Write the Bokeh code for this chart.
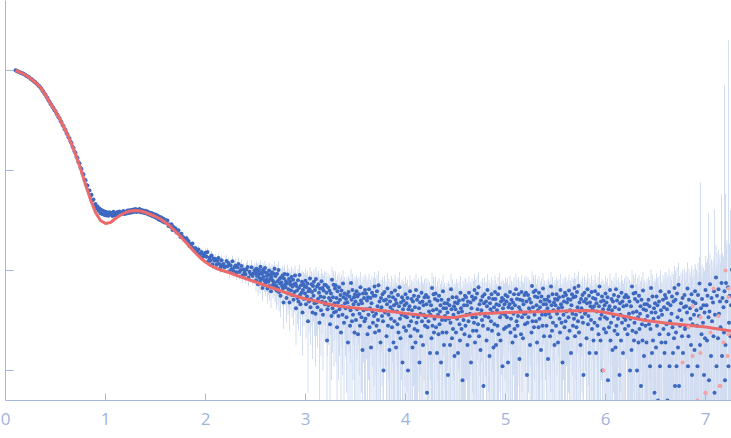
import numpy as np
from bokeh.plotting import figure
from bokeh.models import FixedTicker, Range1d, CustomJSTickFormatter
from bokeh.embed import file_html
from bokeh.resources import INLINE

# ---------------- data ----------------
# low-q part: rows of q (step 0.01), log10 intensity
low_rows = [0.1, 0.2, 0.3, 0.4, 0.5, 0.6, 0.7, 0.8, 0.9, 1.0, 1.1, 1.2,
            1.3, 1.4, 1.5, 1.6, 1.7, 1.8, 1.9, 2.0, 2.1, 2.2, 2.3, 2.4]
low_offsets = [0.00, 0.01, 0.02, 0.03, 0.04, 0.05, 0.06, 0.07, 0.08, 0.09]
logI_low = [
    [0.002, -0.003, -0.010, -0.011, -0.018, -0.019, -0.027, -0.028, -0.036, -0.039],
    [-0.044, -0.054, -0.057, -0.068, -0.071, -0.082, -0.086, -0.098, -0.102, -0.114],
    [-0.118, -0.133, -0.138, -0.152, -0.157, -0.173, -0.183, -0.203, -0.212, -0.233],
    [-0.243, -0.266, -0.276, -0.299, -0.310, -0.334, -0.343, -0.366, -0.375, -0.397],
    [-0.407, -0.432, -0.443, -0.468, -0.478, -0.504, -0.516, -0.545, -0.556, -0.584],
    [-0.596, -0.625, -0.639, -0.668, -0.679, -0.709, -0.724, -0.760, -0.774, -0.810],
    [-0.824, -0.864, -0.876, -0.918, -0.929, -0.972, -0.985, -1.031, -1.041, -1.090],
    [-1.098, -1.147, -1.151, -1.201, -1.199, -1.255, -1.243, -1.301, -1.290, -1.347],
    [-1.336, -1.381, -1.359, -1.402, -1.380, -1.428, -1.395, -1.437, -1.405, -1.444],
    [-1.412, -1.449, -1.421, -1.452, -1.418, -1.441, -1.426, -1.455, -1.413, -1.447],
    [-1.424, -1.444, -1.416, -1.438, -1.409, -1.441, -1.418, -1.432, -1.405, -1.436],
    [-1.412, -1.431, -1.401, -1.425, -1.398, -1.422, -1.394, -1.417, -1.389, -1.413],
    [-1.385, -1.414, -1.392, -1.410, -1.386, -1.418, -1.395, -1.421, -1.399, -1.426],
    [-1.402, -1.431, -1.409, -1.441, -1.420, -1.448, -1.425, -1.458, -1.434, -1.466],
    [-1.441, -1.476, -1.450, -1.489, -1.462, -1.498, -1.471, -1.509, -1.482, -1.521],
    [-1.495, -1.522, -1.500, -1.555, -1.539, -1.562, -1.538, -1.594, -1.565, -1.583],
    [-1.579, -1.619, -1.605, -1.597, -1.638, -1.664, -1.633, -1.666, -1.669, -1.695],
    [-1.699, -1.678, -1.713, -1.706, -1.755, -1.734, -1.761, -1.731, -1.788, -1.778],
    [-1.777, -1.818, -1.799, -1.790, -1.836, -1.832, -1.815, -1.864, -1.838, -1.855],
    [-1.823, -1.863, -1.815, -1.906, -1.869, -1.902, -1.849, -1.940, -1.879, -1.902],
    [-1.885, -1.943, -1.904, -1.876, -1.935, -1.968, -1.898, -1.944, -1.935, -1.968],
    [-1.963, -1.904, -1.957, -1.926, -2.007, -1.948, -1.985, -1.908, -2.005, -1.968],
    [-1.949, -2.018, -1.967, -1.936, -2.015, -1.994, -1.955, -2.048, -1.991, -2.020],
    [-2.040, -1.990, -1.965, -2.073, -2.013, -2.035, -1.968, -2.055, -2.031, -1.997],
]
rel_err_low = [0.01, 0.01, 0.01, 0.01, 0.01, 0.01, 0.01, 0.01, 0.02, 0.02, 0.02, 0.02,
               0.02, 0.02, 0.03, 0.04, 0.05, 0.06, 0.08, 0.10, 0.12, 0.14, 0.16, 0.18]

# high-q part: rows of q (step 0.005), intensity in units of 1e-4
high_rows = [2.5, 2.6, 2.7, 2.8, 2.9, 3.0, 3.1, 3.2, 3.3, 3.4, 3.5, 3.6, 3.7, 3.8, 3.9,
             4.0, 4.1, 4.2, 4.3, 4.4, 4.5, 4.6, 4.7, 4.8, 4.9, 5.0, 5.1, 5.2, 5.3, 5.4,
             5.5, 5.6, 5.7, 5.8, 5.9, 6.0, 6.1, 6.2, 6.3, 6.4, 6.5, 6.6, 6.7, 6.8, 6.9,
             7.0, 7.1, 7.2]
high_offsets = [0.000, 0.005, 0.010, 0.015, 0.020, 0.025, 0.030, 0.035, 0.040, 0.045,
                0.050, 0.055, 0.060, 0.065, 0.070, 0.075, 0.080, 0.085, 0.090, 0.095]
I_high = [
    [94, 80, 104, 88, 98, 73, 91, 101, 84, 77, 109, 95, 82, 92, 67, 102, 86, 97, 79, 106],
    [75, 95, 81, 88, 66, 92, 77, 100, 70, 82, 90, 62, 86, 96, 80, 72, 93, 76, 104, 68],
    [88, 71, 63, 93, 78, 67, 101, 61, 82, 74, 56, 85, 76, 70, 89, 66, 48, 83, 92, 72],
    [68, 78, 53, 74, 91, 59, 65, 82, 48, 77, 72, 63, 86, 57, 69, 81, 51, 73, 61, 89],
    [74, 42, 70, 63, 53, 80, 49, 67, 90, 57, 46, 71, 60, 77, 38, 64, 73, 52, 69, 59],
    [79, 46, 68, 55, 74, 31, 62, 49, 65, 83, 43, 52, 73, 61, 38, 70, 56, 77, 47, 64],
    [37, 82, 48, 69, 43, 52, 73, 60, 30, 66, 55, 40, 78, 49, 67, 36, 63, 54, 72, 46],
    [48, 71, 60, 20, 41, 68, 45, 53, 63, 29, 50, 59, 35, 81, 42, 54, 72, 38, 47, 66],
    [71, 39, 53, 27, 62, 48, 35, 68, 41, 51, 57, 24, 63, 44, 36, 74, 54, 30, 59, 47],
    [42, 52, 34, 57, 48, 19, 61, 43, 55, 28, 40, 75, 51, 31, 64, 36, 46, 54, 24, 58],
    [49, 32, 62, 41, 55, 23, 46, 58, 37, 28, 68, 50, 34, 47, 16, 59, 40, 53, 31, 64],
    [33, 59, 41, 50, 23, 54, 36, 65, 27, 42, 53, 17, 47, 60, 39, 30, 56, 35, 69, 24],
    [56, 37, 28, 62, 44, 32, 71, 25, 49, 40, 19, 53, 43, 35, 58, 31, 10, 50, 61, 38],
    [39, 51, 22, 46, 66, 28, 36, 55, 16, 49, 43, 33, 60, 27, 40, 54, 19, 45, 31, 63],
    [51, 17, 47, 39, 29, 57, 24, 44, 68, 33, 21, 48, 36, 54, 12, 41, 50, 27, 45, 35],
    [58, 25, 47, 34, 53, 10, 41, 28, 44, 62, 22, 31, 52, 40, 17, 49, 35, 56, 26, 43],
    [19, 64, 30, 51, 25, 34, 55, 42, 12, 48, 37, 22, 60, 31, 49, 18, 45, 36, 54, 28],
    [34, 57, 46, 6, 27, 54, 31, 39, 49, 15, 36, 45, 21, 67, 28, 40, 58, 24, 33, 52],
    [59, 27, 41, 15, 50, 36, 23, 56, 29, 39, 45, 12, 51, 32, 24, 62, 42, 18, 47, 35],
    [32, 42, 24, 47, 38, 9, 51, 33, 45, 18, 30, 65, 41, 21, 54, 26, 36, 44, 14, 48],
    [41, 24, 54, 33, 47, 15, 38, 50, 29, 20, 60, 42, 26, 39, 8, 51, 32, 45, 23, 56],
    [28, 54, 36, 45, 18, 49, 31, 60, 22, 37, 48, 12, 42, 55, 34, 25, 51, 30, 64, 19],
    [53, 34, 25, 59, 41, 29, 68, 22, 46, 37, 16, 50, 40, 32, 55, 28, 7, 47, 58, 35],
    [37, 49, 20, 44, 64, 26, 34, 53, 14, 47, 41, 31, 58, 25, 38, 52, 17, 43, 29, 61],
    [52, 18, 46, 40, 28, 58, 23, 45, 67, 34, 20, 49, 37, 53, 11, 42, 51, 26, 46, 36],
    [57, 27, 49, 34, 55, 12, 43, 28, 46, 61, 24, 33, 51, 42, 19, 48, 37, 58, 26, 45],
    [22, 65, 31, 52, 28, 35, 58, 43, 13, 51, 40, 23, 61, 34, 50, 21, 46, 37, 57, 29],
    [37, 60, 49, 9, 30, 57, 34, 42, 52, 18, 39, 48, 24, 70, 31, 43, 61, 27, 36, 55],
    [63, 31, 45, 19, 54, 40, 27, 60, 33, 43, 49, 16, 55, 36, 28, 66, 46, 22, 51, 39],
    [36, 46, 28, 51, 42, 13, 55, 37, 49, 22, 34, 69, 45, 25, 58, 30, 40, 48, 18, 52],
    [45, 28, 58, 37, 51, 19, 42, 54, 33, 24, 64, 46, 30, 43, 12, 55, 36, 49, 27, 60],
    [31, 57, 39, 48, 21, 52, 34, 63, 25, 40, 51, 15, 45, 58, 37, 28, 54, 33, 67, 22],
    [55, 36, 27, 61, 43, 31, 70, 24, 48, 39, 18, 52, 42, 34, 57, 30, 9, 49, 60, 37],
    [38, 52, 21, 47, 65, 29, 35, 56, 15, 48, 44, 32, 61, 26, 41, 53, 20, 44, 30, 62],
    [52, 15, 47, 39, 28, 58, 23, 44, 69, 33, 20, 49, 36, 55, 10, 41, 50, 26, 45, 34],
    [59, 24, 48, 33, 54, 8, 41, 27, 44, 64, 20, 30, 52, 40, 16, 49, 35, 57, 25, 43],
    [17, 65, 28, 50, 23, 33, 55, 41, 9, 47, 36, 20, 60, 30, 49, 15, 44, 34, 54, 26],
    [32, 57, 45, -1, 23, 54, 28, 37, 49, 10, 33, 44, 16, 69, 25, 38, 59, 20, 30, 52],
    [60, 24, 39, 10, 49, 34, 19, 56, 26, 37, 44, 7, 51, 29, 20, 63, 41, 14, 46, 32],
    [28, 40, 19, 46, 35, 1, 51, 29, 44, 11, 26, 67, 38, 15, 55, 20, 33, 42, 6, 47],
    [38, 17, 55, 28, 45, 5, 34, 49, 23, 11, 62, 40, 19, 36, -4, 51, 26, 43, 15, 57],
    [19, 53, 29, 41, 5, 47, 23, 61, 11, 31, 45, -3, 37, 55, 27, 15, 49, 21, 67, 7],
    [51, 24, 11, 59, 34, 17, 72, 7, 40, 28, -1, 47, 32, 22, 53, 15, -14, 43, 57, 26],
    [27, 44, 3, 38, 66, 11, 22, 51, -6, 42, 33, 18, 58, 9, 29, 49, -2, 36, 16, 62],
    [47, -8, 40, 28, 11, 57, 4, 35, 74, 18, -1, 42, 23, 52, -15, 30, 45, 9, 38, 21],
    [64, 3, 45, 20, 56, -25, 34, 8, 39, 73, -3, 14, 53, 31, -11, 48, 22, 62, 6, 36],
    [-11, 85, 11, 56, 1, 21, 65, 37, -27, 49, 27, -5, 75, 14, 53, -15, 43, 24, 62, 8],
    [18, 75, 49, -54, -1, 68, 11, 30, 56, -31, 22, 45, -16, 102, 3, 34, 79, -8, 15, 64],
]
err_high = [18, 20, 22, 23, 24, 25, 26, 27, 27, 28, 28, 28, 28, 28, 28,
            28, 28, 28, 28, 28, 28, 28, 28, 28, 28, 28, 28, 28, 28, 28,
            28, 28, 28, 28, 28, 29, 30, 32, 34, 36, 39, 43, 48, 54, 62,
            75, 95, 130]

# very long error bars near the end (top of bar, units of 1e-4)
spike_q = [6.95, 7.03, 7.09, 7.16, 7.19, 7.20, 7.23, 7.25]
spike_top = [760, 372, 410, 575, 7080, 590, 20000, 400]

# points drawn in pink (units of 1e-4)
pink_q = [5.98, 6.77, 6.83, 6.87, 6.87, 6.92, 6.95, 6.95, 7.00, 7.00, 7.05, 7.08,
          7.13, 7.14, 7.15, 7.18, 7.20, 7.22, 7.23, 7.23, 7.23]
pink_I = [10, 12, 27, 44, 14, 5, 15, 34, 6, 6, 24, 66, 35, 7, 7, 19, 100, 14, 66, 54, 23]

# fitted curve (log10 intensity)
fit_q = [0.10, 0.15, 0.20, 0.25, 0.30, 0.35, 0.40, 0.45, 0.50, 0.55, 0.60, 0.65,
         0.70, 0.75, 0.80, 0.85, 0.90, 0.95, 1.00, 1.05, 1.10, 1.15, 1.20, 1.25,
         1.30, 1.35, 1.40, 1.45, 1.50, 1.55, 1.60, 1.65, 1.70, 1.75, 1.80, 1.85,
         1.90, 1.95, 2.00, 2.05, 2.10, 2.15, 2.20, 2.25, 2.30, 2.40, 2.50, 2.60,
         2.70, 2.80, 2.90, 3.00, 3.10, 3.20, 3.30, 3.40, 3.50, 3.60, 3.70, 3.80,
         3.90, 4.00, 4.10, 4.20, 4.30, 4.40, 4.50, 4.60, 4.70, 4.80, 4.90, 5.00,
         5.20, 5.40, 5.60, 5.80, 5.90, 6.00, 6.10, 6.20, 6.30, 6.40, 6.60, 6.80,
         7.00, 7.26]
fit_logI = [0.000, -0.020, -0.045, -0.080, -0.120, -0.170, -0.245, -0.330, -0.410,
            -0.500, -0.600, -0.710, -0.840, -0.980, -1.140, -1.290, -1.420, -1.500,
            -1.530, -1.520, -1.480, -1.445, -1.420, -1.405, -1.400, -1.405, -1.420,
            -1.440, -1.460, -1.485, -1.520, -1.560, -1.610, -1.660, -1.715, -1.770,
            -1.825, -1.875, -1.915, -1.950, -1.975, -1.995, -2.010, -2.025, -2.045,
            -2.080, -2.115, -2.150, -2.185, -2.220, -2.255, -2.285, -2.305, -2.330,
            -2.350, -2.365, -2.375, -2.385, -2.395, -2.405, -2.415, -2.430, -2.440,
            -2.450, -2.460, -2.470, -2.470, -2.450, -2.435, -2.430, -2.425, -2.420,
            -2.415, -2.410, -2.405, -2.400, -2.405, -2.420, -2.440, -2.460, -2.480,
            -2.500, -2.525, -2.545, -2.565, -2.605]

# ---------------- build arrays ----------------
q_lo = np.array([r + o for r in low_rows for o in low_offsets])
I_lo = 10.0 ** np.array(logI_low).ravel()
e_lo = I_lo * np.repeat(np.array(rel_err_low), len(low_offsets))

q_hi = np.array([r + o for r in high_rows for o in high_offsets])
I_hi = np.array(I_high, dtype=float).ravel() * 1e-4
e_hi = np.repeat(np.array(err_high, dtype=float), len(high_offsets)) * 1e-4

q_all = np.concatenate([q_lo, q_hi])
I_all = np.concatenate([I_lo, I_hi])
e_all = np.concatenate([e_lo, e_hi])
keep = I_all > 0
q_all, I_all, e_all = q_all[keep], I_all[keep], e_all[keep]
lower = np.maximum(I_all - e_all, 1e-6)
upper = I_all + e_all

AXIS = "#a3b7e0"
BLUE = "#3d68c0"
BAR = "#d2ddf1"
RED = "#ec6a6a"
PINK = "#f3a3a3"

p = figure(width=731, height=434, output_backend="svg", toolbar_location=None,
           y_axis_type="log",
           x_range=Range1d(0, 7.26), y_range=Range1d(10 ** -3.3, 10 ** 0.7),
           min_border_left=5, min_border_right=0, min_border_top=0,
           min_border_bottom=34)
p.outline_line_color = None
p.xgrid.visible = False
p.ygrid.visible = False
p.background_fill_color = "white"
p.border_fill_color = "white"

# error bars
p.segment(x0=q_all, y0=lower, x1=q_all, y1=upper, line_color=BAR, line_width=1)
p.segment(x0=spike_q, y0=[1e-6] * len(spike_q), x1=spike_q,
          y1=[t * 1e-4 for t in spike_top], line_color=BAR, line_width=1)

# data points
p.scatter(q_all, I_all, size=4, marker="circle", fill_color=BLUE, line_color=None)

# fit
p.line(fit_q, [10.0 ** v for v in fit_logI], line_color=RED, line_width=3)

# pink points
p.scatter(pink_q, [v * 1e-4 for v in pink_I], size=4, marker="circle",
          fill_color=PINK, line_color=None)

# axes
xa = p.xaxis[0]
xa.ticker = FixedTicker(ticks=[0, 1, 2, 3, 4, 5, 6, 7])
xa.major_tick_in = 7
xa.major_tick_out = 0
xa.minor_tick_line_color = None
xa.axis_line_color = AXIS
xa.major_tick_line_color = AXIS
xa.major_label_text_color = "#9fb3dd"
xa.major_label_text_font = "Open Sans"
xa.major_label_text_font_size = "17px"
xa.major_label_standoff = 12

ya = p.yaxis[0]
ya.ticker = FixedTicker(ticks=[1e-3, 1e-2, 1e-1, 1.0])
ya.formatter = CustomJSTickFormatter(code="return '';")
ya.major_tick_in = 8
ya.major_tick_out = 0
ya.minor_tick_line_color = None
ya.axis_line_color = AXIS
ya.major_tick_line_color = AXIS
ya.major_label_text_font_size = "1px"
ya.major_label_standoff = 0

open("out.html", "w").write(file_html(p, INLINE))
